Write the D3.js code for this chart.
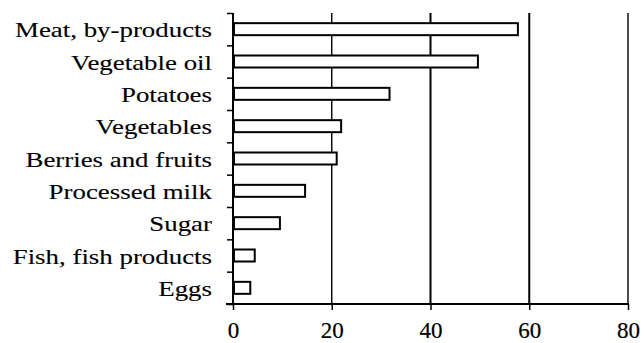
<!DOCTYPE html>
<html>
<head>
<meta charset="utf-8">
<script src="https://cdn.jsdelivr.net/npm/d3@7"></script>
<style>
  html, body { margin: 0; padding: 0; background: #fff; }
  svg { display: block; }
</style>
</head>
<body>
<svg id="chart" width="644" height="343"></svg>
<script>
// Food categories, top to bottom
const categories = [
  "Meat, by-products",
  "Vegetable oil",
  "Potatoes",
  "Vegetables",
  "Berries and fruits",
  "Processed milk",
  "Sugar",
  "Fish, fish products",
  "Eggs"
];
// Values per category
const values = [57.7, 49.6, 31.7, 21.9, 21.0, 14.6, 9.5, 4.4, 3.5];
// Horizontal axis tick labels
const xTicks = [0, 20, 40, 60, 80];

const serif = "Liberation Serif";

const svg = d3.select("#chart");
const plotLeft = 233, plotRight = 628, plotTop = 13, plotBottom = 304;

const x = d3.scaleLinear().domain([0, 80]).range([plotLeft, plotRight]);
const y = d3.scaleBand().domain(categories).range([plotTop, plotBottom]).padding(0);
const yEdge = d3.scaleLinear().domain([0, categories.length]).range([plotTop, plotBottom]);
const barH = 12;

// vertical grid lines
svg.append("g")
  .selectAll("line")
  .data(xTicks.filter(d => d > 0))
  .join("line")
  .attr("x1", d => x(d)).attr("x2", d => x(d))
  .attr("y1", plotTop).attr("y2", plotBottom)
  .attr("stroke", "#000")
  .attr("stroke-width", d => (d === 40 || d === 60) ? 2 : 1.4);

// bars
svg.append("g")
  .selectAll("rect")
  .data(categories.map((c, i) => ({ c, v: values[i] })))
  .join("rect")
  .attr("x", x(0) + 1)
  .attr("y", d => y(d.c) + y.bandwidth() / 2 - barH / 2)
  .attr("width", d => x(d.v) - x(0) - 1)
  .attr("height", barH)
  .attr("fill", "#fff")
  .attr("stroke", "#000")
  .attr("stroke-width", 2);

// left axis: ticks at the category boundaries
const yAxis = svg.append("g")
  .attr("transform", `translate(${plotLeft},0)`)
  .call(d3.axisLeft(yEdge).tickValues(d3.range(0, categories.length + 1)).tickSize(6).tickFormat(""));
yAxis.select(".domain").remove();
yAxis.selectAll(".tick line").attr("stroke", "#000").attr("stroke-width", 1.5);
svg.append("line")
  .attr("x1", plotLeft).attr("x2", plotLeft)
  .attr("y1", plotTop).attr("y2", plotBottom + 1)
  .attr("stroke", "#000").attr("stroke-width", 2);

// bottom axis
const xAxis = svg.append("g")
  .attr("transform", `translate(0,${plotBottom})`)
  .call(d3.axisBottom(x).tickValues(xTicks).tickSize(6).tickPadding(12));
xAxis.attr("font-family", serif).attr("font-size", 23);
xAxis.select(".domain").remove();
xAxis.selectAll(".tick line").attr("stroke", "#000").attr("stroke-width", 1.5);
xAxis.selectAll(".tick text")
  .attr("fill", "#000")
  .attr("stroke", "#000")
  .attr("stroke-width", 0.2);
svg.append("line")
  .attr("x1", plotLeft - 7).attr("x2", plotRight + 1)
  .attr("y1", plotBottom).attr("y2", plotBottom)
  .attr("stroke", "#000").attr("stroke-width", 2);

// category labels, slightly widened serif
svg.append("g")
  .attr("font-family", serif)
  .attr("font-size", 21)
  .selectAll("text")
  .data(categories)
  .join("text")
  .attr("transform", d => `translate(212,${y(d) + y.bandwidth() / 2 + 8}) scale(1.28,1)`)
  .attr("text-anchor", "end")
  .attr("fill", "#000")
  .attr("stroke", "#000")
  .attr("stroke-width", 0.12)
  .text(d => d);
</script>
</body>
</html>
